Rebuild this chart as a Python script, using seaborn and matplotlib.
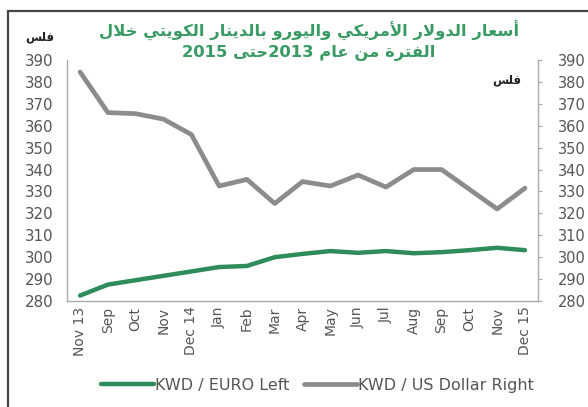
import re
import numpy as np
import pandas as pd
import matplotlib
matplotlib.use("Agg")
import matplotlib.pyplot as plt
from matplotlib.patches import Rectangle
from matplotlib.lines import Line2D
import seaborn as sns

# ===== data =====
months = ["Nov 13", "Sep", "Oct", "Nov", "Dec 14", "Jan", "Feb", "Mar", "Apr",
          "May", "Jun", "Jul", "Aug", "Sep", "Oct", "Nov", "Dec 15"]
kwd_euro = [282.5, 287.5, 289.5, 291.5, 293.5, 295.5, 296.0, 300.0, 301.5,
            302.8, 302.0, 302.8, 301.8, 302.3, 303.2, 304.3, 303.2]
kwd_usd = [384.5, 366.0, 365.5, 363.0, 356.0, 332.5, 335.5, 324.5, 334.5,
           332.5, 337.5, 332.0, 340.0, 340.0, 331.0, 322.0, 331.5]
y_ticks = list(range(280, 391, 10))

title_1 = "أسعار الدولار الأمريكي واليورو بالدينار الكويتي خلال"
title_2 = "الفترة من عام 2013حتى 2015"
unit = "فلس"
legend_labels = ["KWD / EURO Left", "KWD / US Dollar Right"]

# ===== arabic shaping (matplotlib has no complex text layout) =====
AR = {
    "ا": (0xFE8D, 0xFE8E), "أ": (0xFE83, 0xFE84),
    "ب": (0xFE8F, 0xFE90, 0xFE91, 0xFE92), "ة": (0xFE93, 0xFE94),
    "ت": (0xFE95, 0xFE96, 0xFE97, 0xFE98), "ح": (0xFEA1, 0xFEA2, 0xFEA3, 0xFEA4),
    "خ": (0xFEA5, 0xFEA6, 0xFEA7, 0xFEA8), "د": (0xFEA9, 0xFEAA),
    "ر": (0xFEAD, 0xFEAE), "س": (0xFEB1, 0xFEB2, 0xFEB3, 0xFEB4),
    "ع": (0xFEC9, 0xFECA, 0xFECB, 0xFECC), "ف": (0xFED1, 0xFED2, 0xFED3, 0xFED4),
    "ك": (0xFED9, 0xFEDA, 0xFEDB, 0xFEDC), "ل": (0xFEDD, 0xFEDE, 0xFEDF, 0xFEE0),
    "م": (0xFEE1, 0xFEE2, 0xFEE3, 0xFEE4), "ن": (0xFEE5, 0xFEE6, 0xFEE7, 0xFEE8),
    "و": (0xFEED, 0xFEEE), "ى": (0xFEEF, 0xFEF0),
    "ي": (0xFEF1, 0xFEF2, 0xFEF3, 0xFEF4),
}
LAM_ALEF = {"ا": (0xFEFB, 0xFEFC), "أ": (0xFEF7, 0xFEF8)}


def shape(word):
    out = []
    i = 0
    while i < len(word):
        c = word[i]
        prev_joins = i > 0 and word[i - 1] in AR and len(AR[word[i - 1]]) == 4
        if c == "ل" and i + 1 < len(word) and word[i + 1] in LAM_ALEF:
            out.append(chr(LAM_ALEF[word[i + 1]][1 if prev_joins else 0]))
            i += 2
            continue
        if c not in AR:
            out.append(c)
            i += 1
            continue
        f = AR[c]
        next_joins = len(f) == 4 and i + 1 < len(word) and word[i + 1] in AR
        if prev_joins and next_joins:
            g = f[3]
        elif prev_joins:
            g = f[1]
        elif next_joins:
            g = f[2]
        else:
            g = f[0]
        out.append(chr(g))
        i += 1
    return "".join(out)[::-1]


def visual(text):
    # right-to-left line: reverse the runs, keep digit runs left-to-right
    runs = re.findall(r"[\u0600-\u06FF]+|\s+|[^\u0600-\u06FF\s]+", text)
    runs = [shape(r) if re.match(r"[\u0600-\u06FF]", r) else r for r in runs]
    return "".join(runs[::-1])


# ===== style =====
sns.set_style("white")
plt.rcParams["font.family"] = ["DejaVu Sans"]
GREEN = "#2e8c5a"
GREY = "#8c8c8c"
TXT = "#555555"

df = pd.DataFrame({"pos": np.arange(len(months)), "euro": kwd_euro, "usd": kwd_usd})

fig = plt.figure(figsize=(5.88, 4.07), dpi=100)
ax = fig.add_axes([0.114, 0.2604, 0.801, 0.5922])
ax2 = ax.twinx()

sns.lineplot(data=df, x="pos", y="euro", ax=ax, color=GREEN, linewidth=3.2)
sns.lineplot(data=df, x="pos", y="usd", ax=ax2, color=GREY, linewidth=3.4)

for a in (ax, ax2):
    a.set_ylim(280, 390)
    a.set_yticks(y_ticks)
    a.set_xlim(-0.47, len(months) - 1 + 0.47)
    a.set_xlabel("")
    a.set_ylabel("")
    for s in a.spines.values():
        s.set_color("#aaaaaa")
        s.set_linewidth(1.0)
    a.spines["top"].set_visible(False)

ax.spines["right"].set_visible(False)
ax2.spines["left"].set_visible(False)
ax2.spines["bottom"].set_visible(False)

ax.set_xticks(df["pos"])
ax.set_xticklabels(months, rotation=90)
ax.tick_params(axis="x", length=0, pad=4, labelsize=10, labelcolor=TXT)
ax.tick_params(axis="y", length=0, pad=10, labelsize=10.8, labelcolor=TXT)
ax2.tick_params(axis="y", length=3, pad=11, labelsize=10.5, labelcolor=TXT,
                color="#aaaaaa", direction="out")

# title and units
fig.text(0.525, 0.924, visual(title_1), ha="center", va="center",
         color="#3a9a63", fontsize=11.8, fontweight="bold")
fig.text(0.525, 0.870, visual(title_2), ha="center", va="center",
         color="#3a9a63", fontsize=11.8, fontweight="bold")
fig.text(0.068, 0.91, visual(unit), ha="center", va="center",
         color="#222222", fontsize=8.5, fontweight="bold")
fig.text(0.861, 0.803, visual(unit), ha="center", va="center",
         color="#222222", fontsize=8.5, fontweight="bold")

# legend
handles = [Line2D([], [], color=GREEN, linewidth=3.2),
           Line2D([], [], color=GREY, linewidth=3.4)]
fig.legend(handles, legend_labels, loc="center", bbox_to_anchor=(0.54, 0.054),
           ncol=2, frameon=False, handlelength=3.3, handletextpad=0.1,
           columnspacing=0.9, fontsize=11.5, labelcolor=TXT)

# outer frame
fig.patches.append(Rectangle((8 / 588, -0.1), 1.2, 1.1 - 11 / 407,
                             transform=fig.transFigure, fill=False,
                             edgecolor="#444444", linewidth=1.6))

fig.savefig("out.png", dpi=100)
